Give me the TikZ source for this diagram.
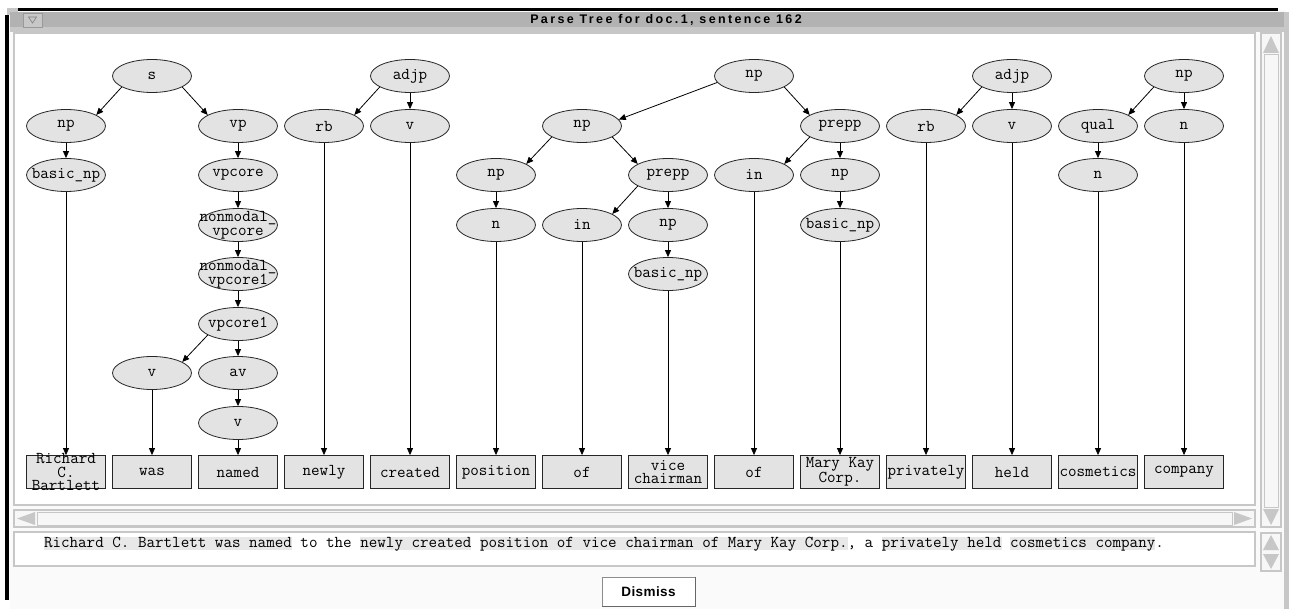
\documentclass[tikz,border=0pt]{standalone}
\usepackage{fontspec}
\setmainfont{Liberation Sans}
\newfontfamily\titlefont[LetterSpace=19]{Liberation Sans}
\newfontfamily\buttonfont[LetterSpace=3]{Liberation Sans}
\usepackage{tikz}
\usetikzlibrary{shapes.geometric}
\usetikzlibrary{arrows.meta}
\usetikzlibrary{positioning}
\definecolor{frame}{gray}{0.78}
\definecolor{bar}{gray}{0.70}
\definecolor{cell}{gray}{0.89}
\definecolor{hilite}{gray}{0.91}
\newcommand{\gap}{\phantom{x}}
\tikzset{basic/.style={draw=black!85,fill=cell,
                       font=\ttfamily\fontsize{16.6}{13.8}\selectfont,align=center}}
\tikzset{cat/.style={basic,ellipse,minimum width=79pt,minimum height=33pt,
                     inner xsep=-12pt,inner ysep=-3pt}}
\tikzset{word/.style={basic,rectangle,minimum width=79pt,minimum height=33pt,
                      inner xsep=0pt,inner ysep=-5pt}}
\tikzset{sent/.style={inner sep=0pt,outer sep=0pt,text height=10pt,text depth=3pt,
                      font=\ttfamily\fontsize{16.6}{14}\selectfont}}
\tikzset{marked/.style={sent,fill=hilite}}
\tikzset{groove/.style={draw=frame,line width=2pt}}

\begin{document}
\begin{tikzpicture}[x=1pt,y=-1pt,line width=0.8pt,>={Triangle[length=7pt,width=6pt]}]

    \useasboundingbox[fill=white] (0,0) rectangle (1289,609);

    % window frame
    \fill[black!2] (10,10) rectangle (1286,609);
    \fill[black] (18,8) rectangle (1278,11);
    \fill[black] (5,15) rectangle (9,600);
    \fill[frame] (7,8) rectangle (18,15);
    \fill[frame] (1284,12) rectangle (1289,609);
    \fill[bar] (10,12) rectangle (1284,27);
    \fill[frame] (10,27) rectangle (1284,32);
    \node[draw=black!40,fill=frame,minimum width=19pt,minimum height=14pt,inner sep=0pt] (menu) at (32.5,20) {};
    \draw[black!50,line width=0.6pt] ([shift={(-4,-3)}]menu.center) -- ++(8,0) -- ++(-4,6) -- cycle;
    \node[font=\titlefont\bfseries\fontsize{12.5}{13}\selectfont] (title) at (666,20) {Parse Tree for doc.1, sentence 162};

    % canvas and scrollbars
    \draw[groove,fill=white] (14,33) rectangle (1255,505);
    \draw[groove,fill=black!3] (1261,33) rectangle (1281,527);
    \draw[frame,line width=1pt] (1264,55) rectangle (1278,507);
    \fill[frame] (1263,53) -- (1279,53) -- (1271,36) -- cycle;
    \fill[frame] (1263,509) -- (1279,509) -- (1271,525) -- cycle;
    \draw[groove,fill=black!3] (14,510) rectangle (1255,527);
    \draw[frame,line width=1pt] (37,512) rectangle (1232,525);
    \fill[frame] (17,518.5) -- (35,512) -- (35,525) -- cycle;
    \fill[frame] (1252,518.5) -- (1234,512) -- (1234,525) -- cycle;
    \draw[groove,fill=white] (14,532) rectangle (1255,566);
    \draw[groove,fill=black!3] (1261,533) rectangle (1281,571);
    \fill[frame] (1263,550) -- (1279,550) -- (1271,535) -- cycle;
    \fill[frame] (1263,554) -- (1279,554) -- (1271,569) -- cycle;

    % tree: s
    \node[cat] (s) at (152,76) {s};
    \node[cat] (np1) at (66,126) {np};
    \node[cat] (bnp1) at (66,175) {basic\_np};
    \node[cat] (vp) at (238,126) {vp};
    \node[cat] (vpc) at (238,175) {vpcore};
    \node[cat] (nmv) at (238,225) {nonmodal\_\\vpcore};
    \node[cat] (nmv1) at (238,274) {nonmodal\_\\vpcore1};
    \node[cat] (vpc1) at (238,324) {vpcore1};
    \node[cat] (v1) at (152,373) {v};
    \node[cat] (av) at (238,373) {av};
    \node[cat] (v2) at (238,423) {v};

    % tree: adjp
    \node[cat] (adjp1) at (410,76) {adjp};
    \node[cat] (rb1) at (324,126) {rb};
    \node[cat] (v3) at (410,126) {v};

    % tree: np
    \node[cat] (np2) at (754,76) {np};
    \node[cat] (np3) at (582,126) {np};
    \node[cat] (prepp1) at (840,126) {prepp};
    \node[cat] (np4) at (496,175) {np};
    \node[cat] (prepp2) at (668,175) {prepp};
    \node[cat] (in2) at (754,175) {in};
    \node[cat] (np5) at (840,175) {np};
    \node[cat] (n1) at (496,225) {n};
    \node[cat] (in1) at (582,225) {in};
    \node[cat] (np6) at (668,225) {np};
    \node[cat] (bnp2) at (840,225) {basic\_np};
    \node[cat] (bnp3) at (668,274) {basic\_np};

    % tree: adjp, np
    \node[cat] (adjp2) at (1012,76) {adjp};
    \node[cat] (rb2) at (926,126) {rb};
    \node[cat] (v4) at (1012,126) {v};
    \node[cat] (np7) at (1184,76) {np};
    \node[cat] (qual) at (1098,126) {qual};
    \node[cat] (n2) at (1184,126) {n};
    \node[cat] (n3) at (1098,175) {n};

    % words
    \node[word] (w1) at (66,472) {Richard\\C.\\Bartlett};
    \node[word] (w2) at (152,472) {was};
    \node[word] (w3) at (238,472) {named};
    \node[word] (w4) at (324,472) {newly};
    \node[word] (w5) at (410,472) {created};
    \node[word] (w6) at (496,472) {position};
    \node[word] (w7) at (582,472) {of};
    \node[word] (w8) at (668,472) {vice\\chairman};
    \node[word] (w9) at (754,472) {of};
    \node[word] (w10) at (840,472) {Mary Kay\\Corp.};
    \node[word] (w11) at (926,472) {privately};
    \node[word] (w12) at (1012,472) {held};
    \node[word] (w13) at (1098,472) {cosmetics};
    \node[word] (w14) at (1184,472) {company};

    \draw[->] (s.200) -- (np1.20);
    \draw[->] (s.340) -- (vp.160);
    \draw[->] (np1) -- (bnp1);
    \draw[->] (vp) -- (vpc);
    \draw[->] (vpc) -- (nmv);
    \draw[->] (nmv) -- (nmv1);
    \draw[->] (nmv1) -- (vpc1);
    \draw[->] (vpc1.200) -- (v1.20);
    \draw[->] (vpc1) -- (av);
    \draw[->] (av) -- (v2);

    \draw[->] (adjp1.200) -- (rb1.20);
    \draw[->] (adjp1) -- (v3);

    \draw[->] (np2.190) -- (np3.10);
    \draw[->] (np2.340) -- (prepp1.160);
    \draw[->] (np3.200) -- (np4.20);
    \draw[->] (np3.340) -- (prepp2.160);
    \draw[->] (np4) -- (n1);
    \draw[->] (prepp2.200) -- (in1.20);
    \draw[->] (prepp2) -- (np6);
    \draw[->] (np6) -- (bnp3);
    \draw[->] (prepp1.200) -- (in2.20);
    \draw[->] (prepp1) -- (np5);
    \draw[->] (np5) -- (bnp2);

    \draw[->] (adjp2.200) -- (rb2.20);
    \draw[->] (adjp2) -- (v4);
    \draw[->] (np7.200) -- (qual.20);
    \draw[->] (np7) -- (n2);
    \draw[->] (qual) -- (n3);

    \draw[->] (bnp1) -- (w1);
    \draw[->] (v1) -- (w2);
    \draw[->] (v2) -- (w3);
    \draw[->] (rb1) -- (w4);
    \draw[->] (v3) -- (w5);
    \draw[->] (n1) -- (w6);
    \draw[->] (in1) -- (w7);
    \draw[->] (bnp3) -- (w8);
    \draw[->] (in2) -- (w9);
    \draw[->] (bnp2) -- (w10);
    \draw[->] (rb2) -- (w11);
    \draw[->] (v4) -- (w12);
    \draw[->] (n3) -- (w13);
    \draw[->] (n2) -- (w14);

    % sentence
    \node[marked,anchor=base west] (t1) at (44,547) {Richard C. Bartlett was named};
    \node[sent,right=0pt of t1] (t2) {\gap to the\gap};
    \node[marked,right=0pt of t2] (t3) {newly created};
    \node[sent,right=0pt of t3] (t4) {\gap};
    \node[marked,right=0pt of t4] (t5) {position of vice chairman of Mary Kay Corp.};
    \node[sent,right=0pt of t5] (t6) {,\gap a\gap};
    \node[marked,right=0pt of t6] (t7) {privately held};
    \node[sent,right=0pt of t7] (t8) {\gap};
    \node[marked,right=0pt of t8] (t9) {cosmetics company};
    \node[sent,right=0pt of t9] (t10) {.};

    \node[draw=black!45,fill=white,minimum width=93pt,minimum height=29pt,inner sep=0pt,
          font=\buttonfont\bfseries\fontsize{13.5}{14}\selectfont] (dismiss) at (648.5,591.5) {Dismiss};
    \draw[black!60,line width=1.5pt] (dismiss.north east) -- (dismiss.south east) -- (dismiss.south west);

\end{tikzpicture}
\end{document}
